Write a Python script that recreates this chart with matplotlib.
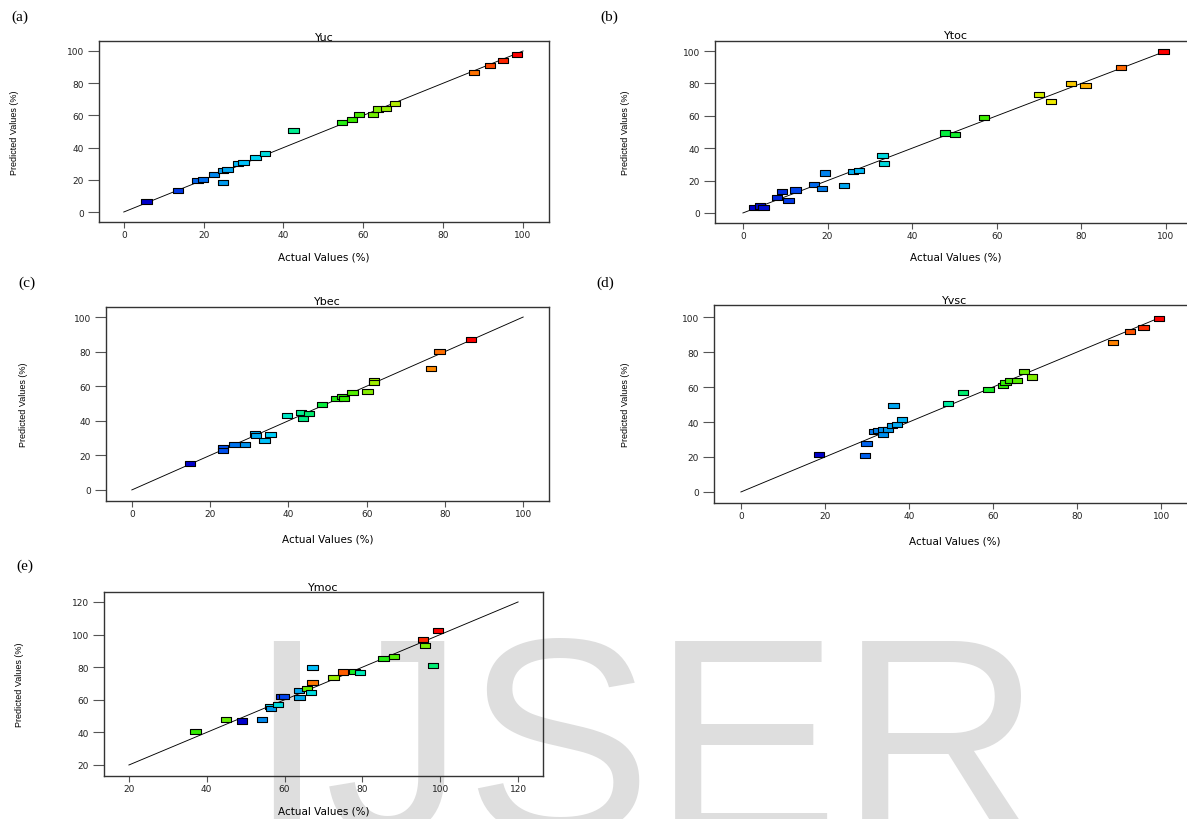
import matplotlib
matplotlib.use("Agg")
import matplotlib.pyplot as plt
from matplotlib.colors import LinearSegmentedColormap

# Figure size in pixels
W, H = 1187, 820

# (a) Yuc
a_actual = [5.7, 13.6, 18.5, 19.8, 22.6, 24.8, 26.0, 24.8, 28.6, 30.0, 33.0, 35.4,
            42.5, 54.6, 57.2, 58.9, 62.4, 63.7, 65.7, 68.0, 87.7, 91.8, 95.0, 98.5]
a_pred = [6.7, 13.1, 19.5, 20.0, 23.5, 25.6, 26.2, 18.5, 29.9, 30.8, 33.9, 36.6,
          50.7, 55.5, 57.4, 60.3, 60.7, 64.0, 64.4, 67.6, 86.7, 91.1, 94.0, 97.9]

# (b) Ytoc
b_actual = [2.7, 4.0, 4.9, 8.1, 9.2, 10.8, 12.4, 16.8, 18.7, 19.4, 23.9, 26.0,
            27.4, 33.0, 33.4, 47.7, 50.2, 57.0, 70.0, 72.8, 77.6, 81.0, 89.3, 99.4]
b_pred = [3.3, 4.3, 3.3, 9.5, 13.0, 7.6, 14.2, 17.5, 15.0, 24.7, 17.1, 25.5,
          26.1, 35.4, 30.7, 49.4, 48.2, 59.0, 73.0, 68.9, 80.0, 78.6, 89.9, 99.8]

# (c) Ybec
c_actual = [14.9, 23.3, 23.3, 26.2, 28.9, 31.4, 31.7, 33.9, 35.4, 39.7, 43.2, 43.8,
            45.2, 48.6, 52.3, 53.7, 54.3, 56.4, 60.2, 61.9, 61.9, 76.5, 78.6, 86.6]
c_pred = [15.1, 24.3, 22.8, 26.3, 26.4, 32.8, 31.7, 28.6, 32.2, 42.9, 44.6, 41.1,
          44.4, 49.6, 53.1, 54.2, 53.1, 56.2, 56.8, 63.3, 62.2, 70.1, 80.1, 86.9]

# (d) Yvsc
d_actual = [18.6, 29.6, 29.9, 31.8, 32.6, 33.8, 33.8, 35.0, 35.9, 36.3, 37.1, 38.3,
            49.3, 52.8, 58.9, 62.4, 63.0, 64.1, 65.7, 67.4, 69.2, 88.5, 92.6, 95.8, 99.5]
d_pred = [21.6, 20.9, 27.9, 34.7, 35.1, 32.8, 35.9, 35.9, 38.0, 49.3, 38.7, 41.6,
          50.7, 57.1, 58.6, 61.1, 62.4, 63.8, 63.9, 68.7, 65.7, 85.6, 91.7, 93.9, 99.2]

# (e) Ymoc
e_actual = [37.1, 45.0, 49.0, 54.2, 56.3, 56.6, 58.3, 59.1, 59.8, 63.8, 63.7, 65.7, 66.7,
            67.2, 67.2, 72.6, 75.0, 78.0, 79.4, 85.4, 88.2, 95.6, 96.1, 98.1, 99.4]
e_pred = [40.3, 47.7, 47.0, 47.9, 55.9, 54.4, 57.3, 62.2, 62.2, 61.5, 65.6, 67.1, 64.5,
          80.0, 70.4, 73.8, 77.0, 77.1, 76.7, 85.1, 86.6, 96.8, 93.3, 81.1, 102.4]
e_colour = [0.55, 0.60, 0.00, 0.18, 0.30, 0.20, 0.32, 0.06, 0.10, 0.23, 0.22, 0.60, 0.32,
            0.26, 0.88, 0.65, 0.91, 0.50, 0.36, 0.52, 0.58, 0.96, 0.62, 0.42, 1.00]

ticks_0_100 = [0, 20, 40, 60, 80, 100]
ticks_20_120 = [20, 40, 60, 80, 100, 120]

cmap = LinearSegmentedColormap.from_list("rainbow_r", [
    (0.00, "#0000cc"), (0.10, "#0044ee"), (0.20, "#0099ee"), (0.28, "#00ccff"),
    (0.36, "#00eebb"), (0.46, "#00ee44"), (0.55, "#33ee00"), (0.65, "#99ee00"),
    (0.72, "#eeee00"), (0.80, "#ffbb00"), (0.90, "#ff6600"), (1.00, "#ff0000")])

# wide rectangle marker
rect = [(-1, -0.5), (1, -0.5), (1, 0.5), (-1, 0.5), (-1, -0.5)]

# pixel boxes: left, top, right, bottom (b and d run past the right edge)
panels = [
    dict(tag="(a)", title="Yuc", x=a_actual, y=a_pred, c=None,
         box=(99, 42, 549, 223), xlim=(-6.2, 106.5), ylim=(-6.2, 106.2),
         ticks=ticks_0_100, line=(0, 100), tagpos=(20, 17), ty=38, xly=258, ylx=15),
    dict(tag="(b)", title="Ytoc", x=b_actual, y=b_pred, c=None,
         box=(715, 42, 1196, 224), xlim=(-6.6, 107.1), ylim=(-6.2, 106.2),
         ticks=ticks_0_100, line=(0, 100), tagpos=(609, 17), ty=36, xly=258, ylx=626),
    dict(tag="(c)", title="Ybec", x=c_actual, y=c_pred, c=None,
         box=(106, 308, 549, 502), xlim=(-6.6, 106.6), ylim=(-6.4, 105.8),
         ticks=ticks_0_100, line=(0, 100), tagpos=(27, 283), ty=302, xly=539, ylx=24),
    dict(tag="(d)", title="Yvsc", x=d_actual, y=d_pred, c=None,
         box=(714, 306, 1196, 504), xlim=(-6.4, 108.3), ylim=(-6.3, 106.9),
         ticks=ticks_0_100, line=(0, 100), tagpos=(605, 283), ty=301, xly=542, ylx=626),
    dict(tag="(e)", title="Ymoc", x=e_actual, y=e_pred, c=e_colour,
         box=(104, 593, 543, 777), xlim=(13.6, 126.4), ylim=(13.25, 126.1),
         ticks=ticks_20_120, line=(20, 120), tagpos=(25, 566), ty=588, xly=812, ylx=20),
]

fig = plt.figure(figsize=(W / 100, H / 100), dpi=100)
fig.patch.set_facecolor("white")

# watermark behind the plots
fig.text(247 / W, 1 - 834 / H, "IJSER", family="Liberation Sans", fontsize=202,
         color="#dedede", ha="left", va="baseline", zorder=-1)

for p in panels:
    l, t, r, b = p["box"]
    ax = fig.add_axes([l / W, 1 - b / H, (r - l) / W, (b - t) / H])
    ax.patch.set_alpha(0)
    hpx, wpx = b - t, r - l

    lo, hi = p["line"]
    ax.plot([lo, hi], [lo, hi], color="black", lw=0.65, zorder=2)

    if p["c"] is None:
        cv, vmin, vmax = p["x"], min(p["x"]), max(p["x"])
    else:
        cv, vmin, vmax = p["c"], 0, 1
    ax.scatter(p["x"], p["y"], c=cv, cmap=cmap, vmin=vmin, vmax=vmax, marker=rect,
               s=55, edgecolors="black", linewidths=0.8, zorder=3)

    ax.set_xlim(*p["xlim"])
    ax.set_ylim(*p["ylim"])
    ax.set_xticks(p["ticks"])
    ax.set_yticks(p["ticks"])

    for s in ax.spines.values():
        s.set_color("#333333")
        s.set_linewidth(1.0)
    ax.tick_params(axis="both", direction="out", width=0.8, color="#555555",
                   labelsize=6.5, labelcolor="#222222")
    ax.tick_params(axis="y", length=8, pad=3)
    ax.tick_params(axis="x", length=4, pad=2)

    ax.set_title(p["title"], fontsize=8, pad=0, y=1 + (t - p["ty"]) / hpx, va="center")
    ax.set_xlabel("Actual Values (%)", fontsize=7.5, va="center")
    ax.xaxis.set_label_coords(0.5, -(p["xly"] - b) / hpx)
    ax.set_ylabel("Predicted Values (%)", fontsize=6.5, family="Liberation Sans", va="center")
    ax.yaxis.set_label_coords((p["ylx"] - l) / wpx, 0.5)

    fig.text(p["tagpos"][0] / W, 1 - p["tagpos"][1] / H, p["tag"], family="Liberation Serif",
             fontsize=11, ha="center", va="center")

fig.savefig("out.png", dpi=100)
